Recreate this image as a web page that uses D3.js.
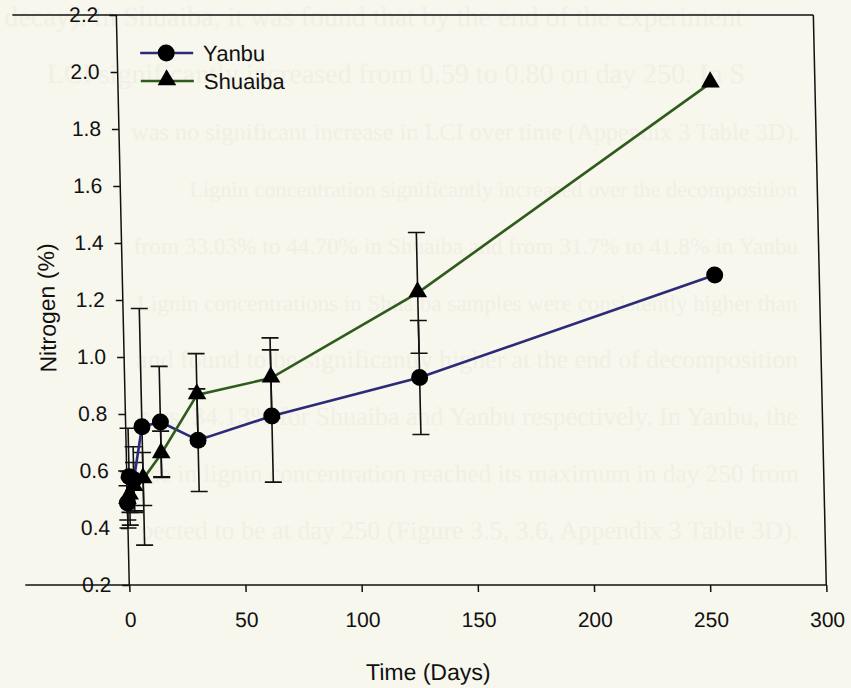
<!DOCTYPE html>
<html>
<head>
<meta charset="utf-8">
<script src="https://cdn.jsdelivr.net/npm/d3@7"></script>
<style>
body{margin:0;background:#f7f7ed;}
svg{display:block;}
</style>
</head>
<body>
<svg id="screen" width="851" height="688"></svg>
<script>
// sampling days and mean nitrogen (%) for both sites
var days = [0, 1, 3, 7, 15, 31, 63, 127, 255];
var yanbu = [0.488, 0.58, 0.57, 0.755, 0.772, 0.708, 0.793, 0.928, 1.288];
var yanbuErr = [0.06, 0.17, 0.115, 0.415, 0.195, 0.18, 0.232, 0.2, 0];
var shuaiba = [0.50, 0.515, 0.545, 0.572, 0.66, 0.867, 0.926, 1.225, 1.961];
var shuaibaErr = [0.1, 0.06, 0.085, 0.093, 0.08, 0.145, 0.141, 0.212, 0];

var xTicks = [0, 50, 100, 150, 200, 250, 300];
var yTicks = [0.2, 0.4, 0.6, 0.8, 1.0, 1.2, 1.4, 1.6, 1.8, 2.0, 2.2];

// faint page text showing through the scan
var pageText = [
  "decay). In Shuaiba, it was found that by the end of the experiment",
  "LCI significantly increased from 0.59 to 0.80 on day 250. In S",
  "was no significant increase in LCI over time (Appendix 3 Table 3D).",
  "Lignin concentration significantly increased over the decomposition",
  "from 33.03% to 44.70% in Shuaiba and from 31.7% to 41.8% in Yanbu",
  "Lignin concentrations in Shuaiba samples were consistently higher than",
  "and found to be significantly higher at the end of decomposition",
  "s vs. 34.13% for Shuaiba and Yanbu respectively. In Yanbu, the",
  "ase in lignin concentration reached its maximum in day 250 from",
  "pected to be at day 250 (Figure 3.5, 3.6, Appendix 3 Table 3D)."
];
var pageTextX = [4, 45, 128, 185, 128, 130, 128, 130, 128, 128];

var font = "'Liberation Sans', Arial, Helvetica, sans-serif";
var svg = d3.select("#screen");
svg.append("rect").attr("width", 851).attr("height", 688).attr("fill", "#f7f7ed");

// the scan is slightly sheared
var shear = Math.tan(1.3 * Math.PI / 180);
var g = svg.append("g").attr("transform", "skewX(1.3)");

g.selectAll(".page").data(pageText).enter().append("text")
  .attr("class", "page")
  .attr("x", function(d, i){ return pageTextX[i]; })
  .attr("y", function(d, i){ return 26 + i * 57; })
  .attr("font-family", "'Liberation Serif', 'DejaVu Serif', serif")
  .attr("font-size", 28)
  .attr("fill", "#f0f0e5")
  .text(function(d){ return d; })
  .each(function(d, i){
    // shrink long lines so they stay inside the page
    var room = 800 - pageTextX[i] - shear * (26 + i * 57);
    var w = this.getComputedTextLength();
    if (w > room) d3.select(this).attr("font-size", Math.floor(28 * room / w * 10) / 10);
  });

var x = d3.scaleLinear().domain([0, 300]).range([116, 813]);
var y = d3.scaleLinear().domain([0.2, 2.2]).range([585, 15]);

// frame lines (top and bottom run past the y axis like in the original)
var frame = g.append("g").attr("stroke", "#111").attr("stroke-width", 1.5).attr("fill", "none");
frame.append("line").attr("x1", 12).attr("x2", x(300)).attr("y1", y(2.2)).attr("y2", y(2.2));
frame.append("line").attr("x1", 12).attr("x2", x(300)).attr("y1", y(0.2)).attr("y2", y(0.2));
frame.append("line").attr("x1", x(300)).attr("x2", x(300)).attr("y1", y(2.2)).attr("y2", y(0.2));
frame.append("line").attr("x1", x(0)).attr("x2", x(0)).attr("y1", y(2.2)).attr("y2", y(0.2));

var yAxis = g.append("g").attr("transform", "translate(" + x(0) + ",0)")
  .call(d3.axisLeft(y).tickValues(yTicks).tickSize(7).tickSizeOuter(0).tickPadding(11).tickFormat(d3.format(".1f")));
var xAxis = g.append("g").attr("transform", "translate(0," + y(0.2) + ")")
  .call(d3.axisBottom(x).tickValues(xTicks).tickSize(7).tickSizeOuter(0).tickPadding(20));
[yAxis, xAxis].forEach(function(a){
  a.select(".domain").remove();
  a.selectAll("line").attr("stroke", "#111").attr("stroke-width", 1.5);
  a.selectAll("text").attr("font-family", font).attr("font-size", 21).attr("fill", "#111");
});

g.append("text").attr("x", 413).attr("y", 680).attr("text-anchor", "middle")
  .attr("font-family", font).attr("font-size", 23).attr("fill", "#111").text("Time (Days)");
g.append("text").attr("transform", "translate(48,308) rotate(-90)").attr("text-anchor", "middle")
  .attr("font-family", font).attr("font-size", 23).attr("fill", "#111").text("Nitrogen (%)");

var series = [
  {name: "Yanbu", values: yanbu, err: yanbuErr, color: "#2b2b7a", shape: "circle"},
  {name: "Shuaiba", values: shuaiba, err: shuaibaErr, color: "#2f5b1d", shape: "triangle"}
];

function points(s){
  return days.map(function(d, i){ return {day: d, v: s.values[i], e: s.err[i]}; });
}

var line = d3.line().x(function(d){ return x(d.day); }).y(function(d){ return y(d.v); });
var tri = d3.symbol().type(d3.symbolTriangle).size(150);

series.forEach(function(s){
  var pts = points(s);
  var eb = g.append("g").attr("stroke", "#111").attr("stroke-width", 1.6);
  pts.filter(function(d){ return d.e > 0; }).forEach(function(d){
    var cx = x(d.day);
    eb.append("line").attr("x1", cx).attr("x2", cx).attr("y1", y(d.v + d.e)).attr("y2", y(d.v - d.e));
    eb.append("line").attr("x1", cx - 8.5).attr("x2", cx + 8.5).attr("y1", y(d.v + d.e)).attr("y2", y(d.v + d.e));
    eb.append("line").attr("x1", cx - 8.5).attr("x2", cx + 8.5).attr("y1", y(d.v - d.e)).attr("y2", y(d.v - d.e));
  });
});

series.forEach(function(s){
  g.append("path").datum(points(s)).attr("d", line)
    .attr("fill", "none").attr("stroke", s.color).attr("stroke-width", 2.6);
});

series.forEach(function(s){
  var pts = points(s);
  if (s.shape == "circle") {
    g.selectAll(".c").data(pts).enter().append("circle")
      .attr("cx", function(d){ return x(d.day); }).attr("cy", function(d){ return y(d.v); })
      .attr("r", 8.5).attr("fill", "#000");
  } else {
    g.selectAll(".t").data(pts).enter().append("path")
      .attr("transform", function(d){ return "translate(" + x(d.day) + "," + (y(d.v) - 1) + ")"; })
      .attr("d", tri).attr("fill", "#000");
  }
});

// legend
var legend = g.append("g");
series.forEach(function(s, i){
  var ly = 53 + i * 28;
  legend.append("line").attr("x1", 139).attr("x2", 192).attr("y1", ly).attr("y2", ly)
    .attr("stroke", s.color).attr("stroke-width", 2.6);
  if (s.shape == "circle") {
    legend.append("circle").attr("cx", 165).attr("cy", ly).attr("r", 8.5).attr("fill", "#000");
  } else {
    legend.append("path").attr("transform", "translate(165," + (ly - 1) + ")").attr("d", tri).attr("fill", "#000");
  }
  legend.append("text").attr("x", 202).attr("y", ly).attr("dy", "0.35em")
    .attr("font-family", font).attr("font-size", 22).attr("fill", "#111").text(s.name);
});
</script>
</body>
</html>
